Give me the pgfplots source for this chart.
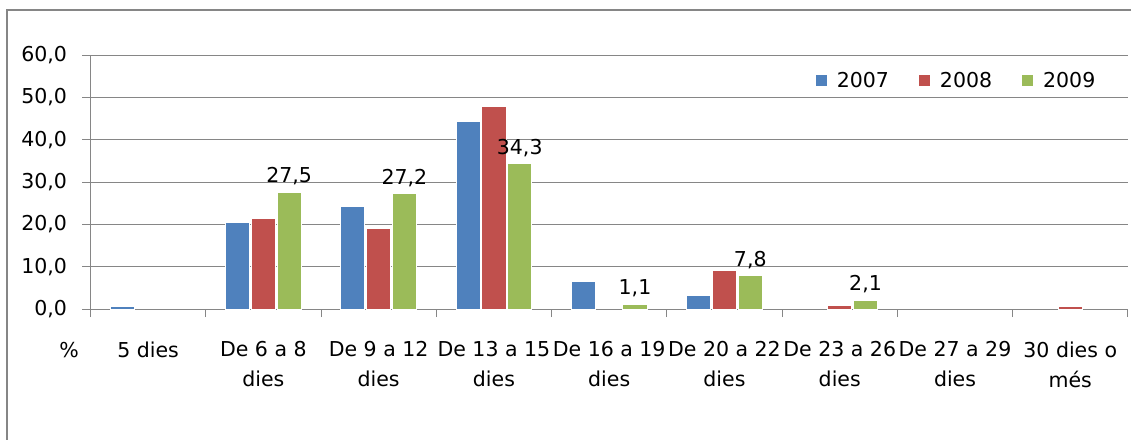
\documentclass[border=0pt]{standalone}
\usepackage{fontspec}
\setmainfont{DejaVu Sans}
\usepackage{pgfplots}
\pgfplotsset{compat=1.18}
\definecolor{c7}{HTML}{4F81BD}
\definecolor{c8}{HTML}{C0504D}
\definecolor{c9}{HTML}{9BBB59}
\definecolor{gridc}{HTML}{868686}
\newcommand{\fs}{\fontsize{20.5}{30}\selectfont}
\begin{document}
\begin{tikzpicture}
\useasboundingbox (0pt,0pt) rectangle (1131pt,-439pt);
\draw[gridc, line width=2pt] (7pt,-440pt) -- (7pt,-10pt) -- (1132pt,-10pt);
\begin{axis}[
  at={(90.5pt,-309pt)}, anchor=south west,
  scale only axis, width=1037.5pt, height=254pt,
  xmin=-0.5, xmax=8.5, ymin=0, ymax=60,
  ybar=1.6pt, bar width=0.21,
  axis x line*=bottom, axis y line*=left,
  axis line style={-, draw=gridc, line width=1pt},
  ytick={0,10,...,60}, ymajorgrids,
  grid style={gridc, line width=1pt},
  tick align=outside, major tick length=8pt,
  tick style={gridc, line width=1pt},
  yticklabel style={/pgf/number format/fixed, /pgf/number format/fixed zerofill, /pgf/number format/precision=1, /pgf/number format/use comma, /pgf/number format/assume math mode=true, font=\fs, text=black, xshift=-12pt},
  xtick={0,...,8},
  xticklabels={5 dies, De 6 a 8\\dies, De 9 a 12\\dies, De 13 a 15\\dies, De 16 a 19\\dies, De 20 a 22\\dies, De 23 a 26\\dies, De 27 a 29\\dies, 30 dies o\\més},
  xticklabel style={font=\fs, text=black, align=center, yshift=-21pt},
  major x tick style={draw=none},
  minor xtick={-0.5,0.5,...,8.5},
  minor tick length=8pt,
  minor x tick style={gridc, line width=1pt},
  legend style={draw=none, fill=none, legend columns=3, at={(0.698,0.90)}, anchor=west, font=\fs, inner sep=0pt,
    /tikz/every odd column/.append style={column sep=7pt},
    /tikz/every even column/.append style={column sep=27pt}},
  legend image code/.code={\fill[#1] (0pt,-6pt) rectangle (12pt,6pt);},
]
\addplot[fill=c7, draw=white, line width=1pt] coordinates {(0,0.6) (1,20.4) (2,24.2) (3,44.3) (4,6.6) (5,3.1)};
\addplot[fill=c8, draw=white, line width=1pt] coordinates {(1,21.3) (2,19.0) (3,47.8) (5,9.0) (6,0.9) (8,0.6)};
\addplot[fill=c9, draw=white, line width=1pt, nodes near coords,
  every node near coord/.append style={font=\fs, text=black, yshift=3.5pt, /pgf/number format/fixed, /pgf/number format/fixed zerofill, /pgf/number format/precision=1, /pgf/number format/use comma, /pgf/number format/assume math mode=true}]
  coordinates {(1,27.5) (2,27.2) (3,34.3) (4,1.1) (5,7.8) (6,2.1)};
\legend{2007,2008,2009}
\end{axis}
\node[font=\fs, anchor=center] at (69pt,-350pt) {\%};
\end{tikzpicture}
\end{document}
